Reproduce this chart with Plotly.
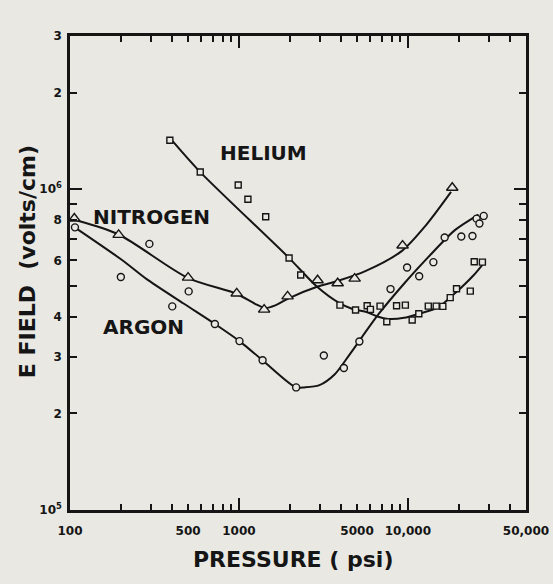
import math
import plotly.graph_objects as go

# ---- data (pressure in psi, E field in volts/cm) ----
helium_p = [390, 590, 990, 1130, 1440, 1980, 2320, 3960, 4900, 5740, 6000, 6840, 7500,
            8570, 9660, 10600, 11600, 13200, 14700, 16100, 17800, 19400, 23400, 24700, 27600]
helium_e = [1.42e6, 1.13e6, 1.03e6, 9.3e5, 8.2e5, 6.1e5, 5.4e5, 4.35e5, 4.2e5, 4.33e5, 4.22e5,
            4.32e5, 3.86e5, 4.33e5, 4.35e5, 3.91e5, 4.09e5, 4.32e5, 4.32e5, 4.31e5, 4.59e5,
            4.89e5, 4.81e5, 5.94e5, 5.92e5]

nitrogen_p = [106, 194, 500, 970, 1410, 1940, 2920, 3840, 4840, 9300, 18300]
nitrogen_e = [8.1e5, 7.2e5, 5.3e5, 4.73e5, 4.21e5, 4.63e5, 5.2e5, 5.09e5, 5.26e5, 6.67e5, 1.01e6]

argon_p = [107, 200, 295, 403, 504, 720, 1007, 1380, 2180, 3180, 4180, 5160, 7890, 9890,
           11660, 14150, 16500, 20700, 24100, 25500, 28100, 26500]
argon_e = [7.6e5, 5.32e5, 6.75e5, 4.31e5, 4.80e5, 3.80e5, 3.36e5, 2.93e5, 2.41e5, 3.03e5,
           2.77e5, 3.35e5, 4.88e5, 5.70e5, 5.35e5, 5.92e5, 7.07e5, 7.12e5, 7.14e5, 8.09e5,
           8.25e5, 7.81e5]

# hand-drawn fitted curves
helium_fit_p = [405, 586, 1950, 2890, 3910, 4660, 5840, 6680, 7620, 9500, 11650, 15000, 19200, 24400, 27600]
helium_fit_e = [1.41e6, 1.134e6, 6.15e5, 4.97e5, 4.42e5, 4.24e5, 4.12e5, 4.0e5, 3.94e5, 3.97e5,
                4.09e5, 4.27e5, 4.76e5, 5.38e5, 5.81e5]

nitrogen_fit_p = [110, 194, 501, 967, 1246, 1426, 1641, 1955, 2928, 3827, 5598, 9226, 12775, 18000]
nitrogen_fit_e = [7.98e5, 7.22e5, 5.28e5, 4.72e5, 4.39e5, 4.26e5, 4.34e5, 4.56e5, 4.97e5, 5.17e5,
                  5.55e5, 6.42e5, 7.71e5, 9.8e5]

argon_fit_p = [111, 206, 283, 470, 720, 1007, 1378, 2176, 2436, 2994, 3693, 4515, 6664, 9535,
               14186, 18967, 26190]
argon_fit_e = [7.49e5, 5.98e5, 5.25e5, 4.40e5, 3.80e5, 3.36e5, 2.93e5, 2.41e5, 2.41e5, 2.45e5,
               2.65e5, 3.05e5, 4.06e5, 5.09e5, 6.39e5, 7.45e5, 8.33e5]

# axis ticks
x_tickvals = [100, 500, 1000, 5000, 10000, 50000]
x_ticktext = ["100", "500", "1000", "5000", "10,000", "50,000"]
x_minor = [200, 300, 400, 600, 700, 800, 900, 2000, 3000, 4000, 6000, 7000, 8000, 9000,
           20000, 30000, 40000]
x_major_long = [1000, 10000]

y_tickvals = [1e5, 2e5, 3e5, 4e5, 6e5, 8e5, 1e6, 2e6, 3e6]
y_ticktext = ["10<sup>5</sup>", "2", "3", "4", "6", "8", "10<sup>6</sup>", "2", "3"]
y_minor = [5e5, 7e5, 9e5]
y_major_long = [1e6]

labels = ["HELIUM", "NITROGEN", "ARGON"]
label_p = [1406, 303, 271]
label_e = [1.30e6, 8.17e5, 3.73e5]

x_title = "PRESSURE ( psi)"
y_title = "E FIELD  (volts/cm)"

eps = 1e-6
x_range = [math.log10(100) - eps, math.log10(50000) + eps]
y_range = [math.log10(1e5) - eps, math.log10(3e6) + eps]

ink = "#151515"
bg = "#e9e8e3"
fam = "DejaVu Sans"

fig = go.Figure()

for px, ey in [(helium_fit_p, helium_fit_e), (nitrogen_fit_p, nitrogen_fit_e), (argon_fit_p, argon_fit_e)]:
    fig.add_trace(go.Scatter(x=px, y=ey, mode="lines",
                             line=dict(color=ink, width=2, shape="spline", smoothing=0.8),
                             hoverinfo="skip", showlegend=False))

fig.add_trace(go.Scatter(x=helium_p, y=helium_e, mode="markers", name="Helium", showlegend=False,
                         marker=dict(symbol="square", size=6, color=bg, line=dict(color=ink, width=1.4))))
fig.add_trace(go.Scatter(x=nitrogen_p, y=nitrogen_e, mode="markers", name="Nitrogen", showlegend=False,
                         marker=dict(symbol="triangle-up", size=10, color=bg, line=dict(color=ink, width=1.4))))
fig.add_trace(go.Scatter(x=argon_p, y=argon_e, mode="markers", name="Argon", showlegend=False,
                         marker=dict(symbol="circle", size=7, color=bg, line=dict(color=ink, width=1.4))))

# invisible trace on overlay axes carrying the long major ticks
fig.add_trace(go.Scatter(x=[1000], y=[1e6], xaxis="x2", yaxis="y2", mode="markers",
                         marker=dict(opacity=0), hoverinfo="skip", showlegend=False))

for t, p, e in zip(labels, label_p, label_e):
    fig.add_annotation(x=math.log10(p), y=math.log10(e), text=t, showarrow=False,
                       font=dict(family=fam, size=20, color=ink, weight="bold"))

titlefont = dict(family=fam, size=22, color=ink, weight="bold")
fig.add_annotation(xref="paper", yref="paper", x=0.49, y=-0.105, text=x_title, showarrow=False,
                   xanchor="center", yanchor="middle", font=titlefont)
fig.add_annotation(xref="paper", yref="paper", x=-0.094, y=0.523, text=y_title, showarrow=False,
                   textangle=-90, xanchor="center", yanchor="middle", font=titlefont)

tickfont = dict(family=fam, size=12, color=ink, weight="bold")

fig.update_layout(
    width=553, height=584,
    margin=dict(l=70, r=27, t=36, b=74, autoexpand=False),
    paper_bgcolor=bg, plot_bgcolor=bg,
    xaxis=dict(type="log", range=x_range, tickmode="array", tickvals=x_tickvals, ticktext=x_ticktext,
               ticks="inside", ticklen=6, tickwidth=1.8, tickcolor=ink, ticklabelstandoff=8,
               ticklabeloverflow="allow",
               showline=True, linewidth=2.5, linecolor=ink, mirror="allticks", automargin=False,
               showgrid=False, zeroline=False, tickfont=tickfont,
               minor=dict(tickmode="array", tickvals=x_minor, ticks="inside", ticklen=6,
                          tickwidth=1.8, tickcolor=ink, showgrid=False)),
    yaxis=dict(type="log", range=y_range, tickmode="array", tickvals=y_tickvals, ticktext=y_ticktext,
               ticks="inside", ticklen=7, tickwidth=1.8, tickcolor=ink, ticklabelstandoff=3,
               ticklabeloverflow="allow",
               showline=True, linewidth=2.5, linecolor=ink, mirror="allticks", automargin=False,
               showgrid=False, zeroline=False, tickfont=tickfont,
               minor=dict(tickmode="array", tickvals=y_minor, ticks="inside", ticklen=7,
                          tickwidth=1.8, tickcolor=ink, showgrid=False)),
    xaxis2=dict(type="log", range=x_range, overlaying="x", side="bottom", tickmode="array",
                tickvals=x_major_long, ticks="inside", ticklen=12, tickwidth=2, tickcolor=ink,
                showticklabels=False, showline=True, linewidth=2.5, linecolor=ink, automargin=False,
                mirror="allticks", showgrid=False, zeroline=False),
    yaxis2=dict(type="log", range=y_range, overlaying="y", side="left", tickmode="array",
                tickvals=y_major_long, ticks="inside", ticklen=12, tickwidth=2, tickcolor=ink,
                showticklabels=False, showline=True, linewidth=2.5, linecolor=ink, automargin=False,
                mirror="allticks", showgrid=False, zeroline=False),
)

fig.write_html("out.html", config={"displayModeBar": False},
               post_script="document.body.style.margin='0';document.body.style.background='%s';" % bg)
